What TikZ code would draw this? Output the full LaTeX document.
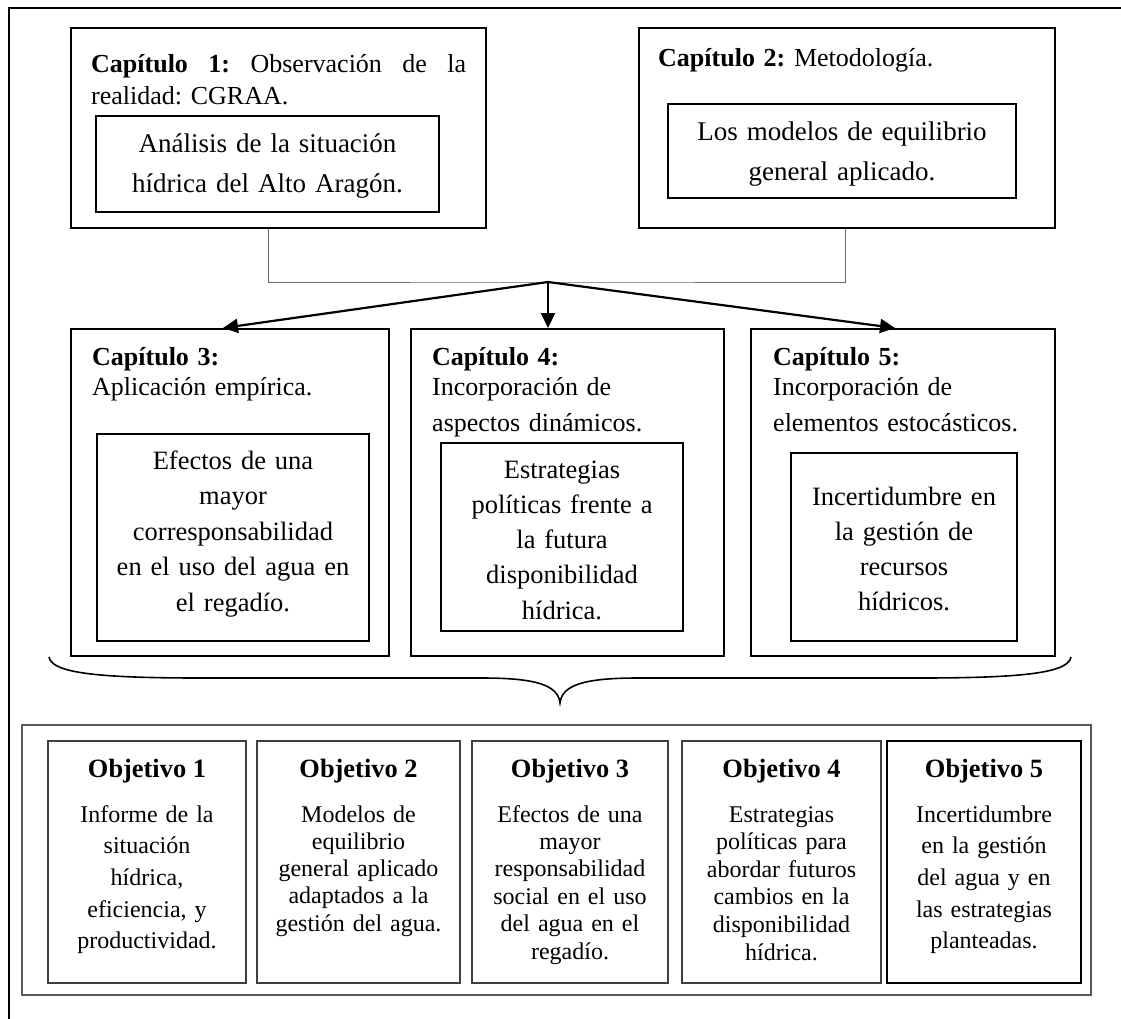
\documentclass[tikz,border=0pt]{standalone}
\usepackage{fontspec}
\setmainfont{Liberation Serif}
\usetikzlibrary{arrows.meta}
\frenchspacing

\tikzset{
  outerline/.style={line width=2pt, line cap=rect},
  capbox/.style={draw, line width=2pt, inner sep=0pt},
  inbox/.style={draw, line width=1.5pt, inner sep=0pt},
  objframe/.style={draw=black!65, line width=1.3pt, inner sep=0pt},
  objbox/.style={draw=black!75, line width=1.2pt, inner sep=0pt},
  objboxbold/.style={draw, line width=2.5pt, inner sep=0pt},
  joinline/.style={draw=black!60, line width=1pt},
  flow/.style={line width=2.2pt, -{Triangle[length=15pt,width=14pt]}},
  bracepath/.style={line width=1.6pt},
  headtxt/.style={inner sep=0pt, anchor=base west, align=left},
  intxt/.style={inner sep=0pt, anchor=base, align=center},
  objhead/.style={inner sep=0pt, anchor=base, font=\fontsize{26.4}{30}\selectfont\bfseries},
}

\begin{document}
\begin{tikzpicture}[x=1pt, y=-1pt]
\useasboundingbox (0,0) rectangle (1121,1019);

% page frame (top and left edges)
\draw[outerline] (1121,8) -- (9,8) -- (9,1019);

% ---- chapters 1 and 2 ----
\node[capbox, minimum width=415pt, minimum height=200pt] (cap1) at (278.5,128) {};
\node[inbox, minimum width=343pt, minimum height=96pt] (cap1in) at (267.5,164) {};
\node[capbox, minimum width=416pt, minimum height=200pt] (cap2) at (847,128) {};
\node[inbox, minimum width=348pt, minimum height=94pt] (cap2in) at (842,151) {};

\node[headtxt, text width=375pt, font=\fontsize{26}{32}\selectfont] (cap1t) at (91,73)
  {\textbf{Capítulo}\hfill\textbf{1:}\hfill Observación\hfill de\hfill la\\realidad: CGRAA.};
\node[intxt, text width=335pt, font=\fontsize{27}{40}\selectfont] (cap1int) at (267.5,153)
  {Análisis de la situación\\hídrica del Alto Aragón.};
\node[headtxt, text width=390pt, font=\fontsize{26}{26}\selectfont] (cap2t) at (658,67)
  {\textbf{Capítulo 2:} Metodología.};
\node[intxt, text width=340pt, font=\fontsize{27}{40}\selectfont] (cap2int) at (842,141)
  {Los modelos de equilibrio\\general aplicado.};

% ---- chapters 3, 4 and 5 ----
\node[capbox, minimum width=318pt, minimum height=327pt] (cap3) at (230,492.5) {};
\node[inbox, minimum width=272pt, minimum height=207pt] (cap3in) at (233,537.5) {};
\node[capbox, minimum width=313pt, minimum height=327pt] (cap4) at (567.5,492.5) {};
\node[inbox, minimum width=242pt, minimum height=188pt] (cap4in) at (562,537) {};
\node[capbox, minimum width=304pt, minimum height=327pt] (cap5) at (903,492.5) {};
\node[inbox, minimum width=226pt, minimum height=188pt] (cap5in) at (904,547) {};

\node[headtxt, text width=290pt, font=\fontsize{26}{30}\selectfont] (cap3t) at (92,365)
  {\textbf{Capítulo 3:}\\Aplicación empírica.};
\node[headtxt, text width=285pt, font=\fontsize{26}{30}\selectfont] (cap4t) at (432,365)
  {\textbf{Capítulo 4:}\\Incorporación de\\[6pt]aspectos dinámicos.};
\node[headtxt, text width=275pt, font=\fontsize{26}{30}\selectfont] (cap5t) at (773,365)
  {\textbf{Capítulo 5:}\\Incorporación de\\[6pt]elementos estocásticos.};

\node[intxt, text width=262pt, font=\fontsize{26.5}{35.5}\selectfont] (cap3int) at (233,469)
  {Efectos de una\\mayor\\corresponsabilidad\\en el uso del agua en\\el regadío.};
\node[intxt, text width=232pt, font=\fontsize{26.5}{35.3}\selectfont] (cap4int) at (562,478)
  {Estrategias\\políticas frente a\\la futura\\disponibilidad\\hídrica.};
\node[intxt, text width=216pt, font=\fontsize{26.5}{35.3}\selectfont] (cap5int) at (904,505)
  {Incertidumbre en\\la gestión de\\recursos\\hídricos.};

% ---- connectors ----
\coordinate (hub) at (548,282);
\draw[joinline] ([xshift=-10.5pt]cap1.south) |- (hub) -| ([xshift=-2pt]cap2.south);
\draw[flow] (hub) -- ([xshift=-7pt]cap3.north);
\draw[flow] (hub) -- ([xshift=-19.5pt]cap4.north);
\draw[flow] (hub) -- ([xshift=-8pt]cap5.north);

% ---- brace under the chapters ----
\draw[bracepath] (49,657) .. controls (52,672) and (90,678) .. (200,678)
  -- (482,678) .. controls (536,678) and (558,685) .. (560,703)
  .. controls (562,685) and (584,678) .. (638,678)
  -- (920,678) .. controls (1030,678) and (1068,672) .. (1071,657);

% ---- objectives ----
\node[objframe, minimum width=1069pt, minimum height=270pt] (objs) at (556.5,860) {};
\node[objbox, minimum width=198pt, minimum height=242pt] (obj1) at (147,862) {};
\node[objbox, minimum width=203pt, minimum height=242pt] (obj2) at (358.5,862) {};
\node[objbox, minimum width=196pt, minimum height=242pt] (obj3) at (570,862) {};
\node[objbox, minimum width=199pt, minimum height=242pt] (obj4) at (781.5,862) {};
\node[objboxbold, minimum width=194pt, minimum height=242pt] (obj5) at (984,862) {};

\node[objhead] (obj1h) at (147,777) {Objetivo 1};
\node[objhead] (obj2h) at (358.5,777) {Objetivo 2};
\node[objhead] (obj3h) at (570,777) {Objetivo 3};
\node[objhead] (obj4h) at (781.5,777) {Objetivo 4};
\node[objhead] (obj5h) at (984,777) {Objetivo 5};

\node[intxt, text width=185pt, font=\fontsize{24}{31.7}\selectfont] (obj1t) at (147,822)
  {Informe de la\\situación\\hídrica,\\eficiencia, y\\productividad.};
\node[intxt, text width=190pt, font=\fontsize{24}{27.3}\selectfont] (obj2t) at (358.5,822)
  {Modelos de\\equilibrio\\general aplicado\\adaptados a la\\gestión del agua.};
\node[intxt, text width=185pt, font=\fontsize{24}{27.4}\selectfont] (obj3t) at (570,822)
  {Efectos de una\\mayor\\responsabilidad\\social en el uso\\del agua en el\\regadío.};
\node[intxt, text width=188pt, font=\fontsize{24}{27.6}\selectfont] (obj4t) at (781.5,822)
  {Estrategias\\políticas para\\abordar futuros\\cambios en la\\disponibilidad\\hídrica.};
\node[intxt, text width=182pt, font=\fontsize{24}{31.7}\selectfont] (obj5t) at (984,822)
  {Incertidumbre\\en la gestión\\del agua y en\\las estrategias\\planteadas.};

\end{tikzpicture}
\end{document}
